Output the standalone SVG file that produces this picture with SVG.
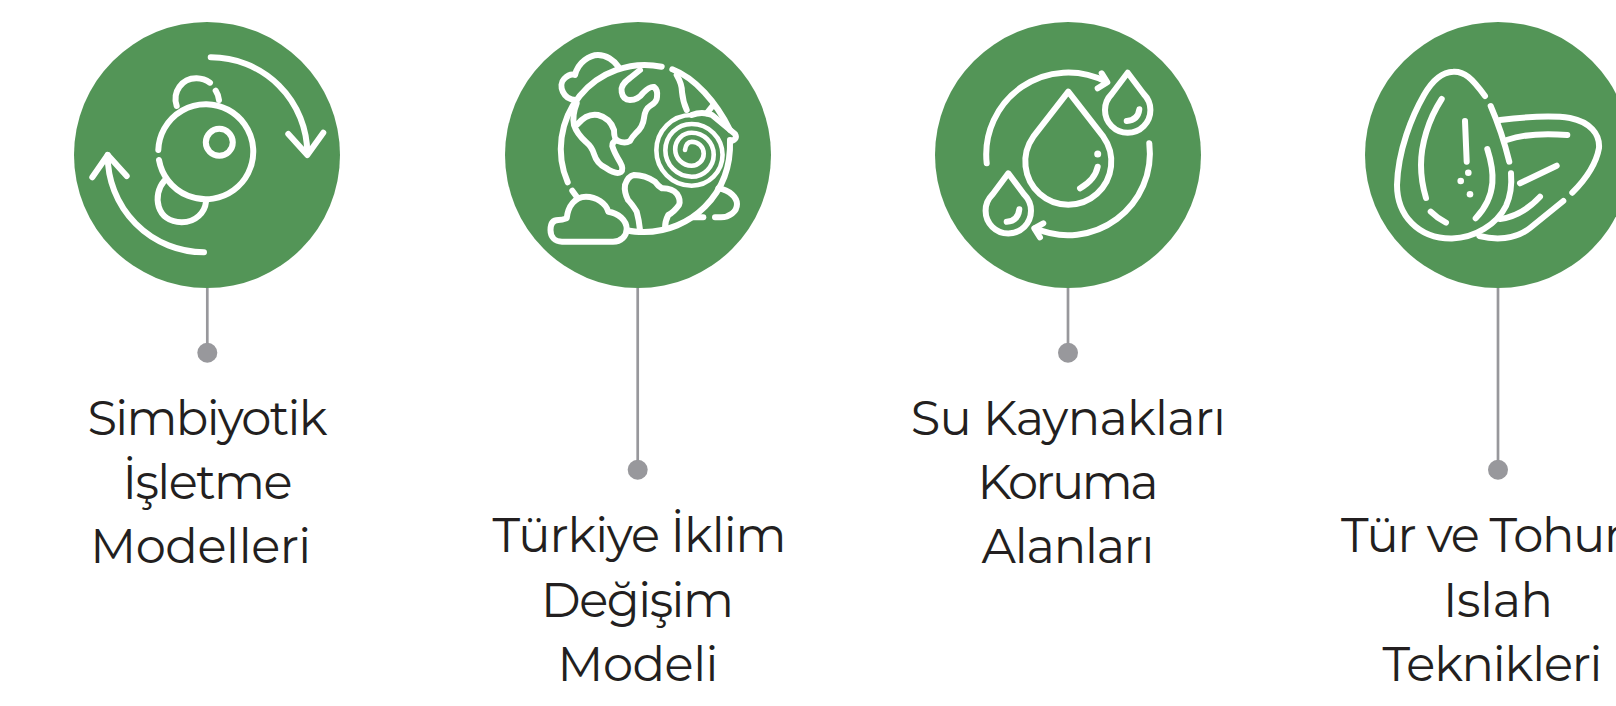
<svg xmlns="http://www.w3.org/2000/svg" width="1616" height="706" viewBox="0 0 1616 706">
<style>
.disc{fill:#539557}
.ic{fill:none;stroke:#fff;stroke-width:6;stroke-linecap:round;stroke-linejoin:round}
.spiral{stroke-width:4.6}
.dot{fill:#fff}
.conn{stroke:#98989c;stroke-width:2.7;fill:none}
.end{fill:#98989c}
text{font-family:"Montserrat","Open Sans","Noto Sans",sans-serif;font-size:48px;fill:#231f20;text-anchor:middle}
</style>
<rect width="1616" height="706" fill="#fff"/>
<g id="connectors">
<path class="conn" d="M207.300 288V353"/><circle class="end" cx="207.300" cy="352.700" r="10"/>
<path class="conn" d="M637.700 288V470"/><circle class="end" cx="637.700" cy="469.700" r="10"/>
<path class="conn" d="M1068 288V353"/><circle class="end" cx="1068" cy="352.700" r="10"/>
<path class="conn" d="M1498 288V470"/><circle class="end" cx="1498" cy="469.700" r="10"/>
</g>
<g id="node-1">
<circle class="disc" cx="207" cy="155" r="133"/>
<g class="ic">
<path d="M210.700 57.300A96.500 96.500 0 0 1 307.300 153.300"/><path d="M288.300 134L307.300 155L323.300 132.700"/>
<path d="M204 252.300A96.500 96.500 0 0 1 107.700 155"/><path d="M92.300 177.300L107.700 155L126.700 176"/>
<path d="M158.300 150A47.500 47.500 0 1 1 159 160"/>
<circle cx="219.300" cy="142.300" r="13.500"/>
<path d="M176.700 106C172 92 182 78 196.700 78.300Q204 78.500 210 82.700"/><path d="M215.700 90.700Q218.500 95 219 100"/>
<path d="M164.300 180.700C152 195 156 222 181.700 222.300C196 222.300 205 212 206 201.700"/>
</g>
</g>
<g id="node-2">
<circle class="disc" cx="638" cy="155" r="133"/>
<g class="ic">
<path d="M661.700 66.700A84 84 0 0 0 567.700 182.300"/>
<path d="M672.300 69.300C695 78 716 102 730 130"/>
<path d="M730 140C732 195 690 232 644 232C638 232 632 231.500 628 230.500"/>
<path d="M575.700 100C563 100 558 85 564 79C568 75 572 74 575 75C578 62 590 55 598 55C606 55 614 60 618.300 66.700"/>
<path d="M640 70L630 78Q620 85 621.700 92Q623 100 630 100Q638 100 643 93Q650 86 654 87Q658 90 657 97Q657 102 650 106Q645 109 644 118Q643 127 636 133Q632 137 630 141Q625 144 618 141Q614 140 614 130Q610 118 598 115Q587 113 577.700 124"/>
<path d="M576.700 103.300Q572 115 574 125Q577 134 586 142Q592 147 594 154Q597 164 606 168Q616 175 621 172Q624 169 620 162Q614 152 612.300 146Q612 142 616.700 140"/>
<path d="M691.700 115Q702 111 712 115L735 134Q738 139 731 141"/>
<path class="spiral" d="M691.700 115A35.300 35.300 0 0 0 691.700 185.700A30.800 30.800 0 0 0 691.700 124A26.300 26.300 0 0 0 691.700 176.700A22 22 0 0 0 691.700 132.700A16.500 16.500 0 0 0 691.700 165.700A12 12 0 0 0 691.700 141.700Q686 142 685 150"/>
<path d="M676.700 75Q682 84 682 92Q683 102 686.700 110"/>
<path d="M713.300 105L706.700 113.300"/>
<path d="M718.300 188.300C730 190 737 198 737 204C737 212 729 217.300 721 217.300H715"/>
<path d="M693.300 217.300H703.300"/>
<path d="M572.300 190.700L576.700 196.700"/>
<path d="M558.300 220C552 220 550.500 225 550.500 230C550.500 237 555 241.700 562 241.700H613C621 241.700 626.700 236 626.700 229C626.700 220 618 213 608.300 211.700C606 203 596 196.700 586 196.700C575 196.700 568 206 566.700 218.300Q562 220 558.300 220Z"/>
<path d="M640 230Q639 220 636.700 211.700Q632 204 628 200Q624 192 625 185Q628 176 634 175Q645 175 655 181.700Q658 186 662 188.300Q672 188 677 194Q681 200 679 205Q674 212 668.300 215Q665 221 665 228.300"/>
</g>
</g>
<g id="node-3">
<circle class="disc" cx="1068" cy="155" r="133"/>
<g class="ic">
<path d="M986.700 163.300A82 82 0 0 1 1106 81.700"/><path d="M1101.700 73.300L1107.300 82.300L1097.700 88.300"/>
<path d="M1149.300 143.300A82 82 0 0 1 1035 228.300"/><path d="M1043.300 223.300L1034.300 228.300L1040 237.300"/>
<path d="M1068.300 91.700L1103.300 136.700A43 43 0 1 1 1033.300 136.700Z"/>
<path d="M1097.700 166.700Q1095 180 1080 188.300"/>
<path d="M1127.700 72.700L1143.700 94A22.700 22.700 0 1 1 1111.700 94Z"/>
<path d="M1139.300 109.300Q1138 120 1126.700 121"/>
<path d="M1008.300 173.300L1024.300 194.700A22.700 22.700 0 1 1 992.300 194.700Z"/>
<path d="M1019.300 209.300Q1018 221 1006.700 221.700"/>
</g>
<circle class="dot" cx="1097.700" cy="154" r="3.500"/>
</g>
<g id="node-4">
<circle class="disc" cx="1498" cy="155" r="133"/>
<g class="ic">
<path d="M1485 96C1472 78 1464 71 1453.300 71.700C1442 72 1432 81 1424 95C1412 116 1398 150 1397 185C1397 215 1418 239 1452 238.500C1475 238 1497 224 1506 206C1511 195 1512 185 1511 173.300"/>
<path d="M1490.700 106Q1502 132 1509.300 161.700"/>
<path d="M1441.700 99C1428 120 1421 145 1421 165C1421 178 1423 188 1426 198"/>
<path d="M1430.700 211.700Q1437 218 1446 222.700"/>
<path d="M1465 121L1466.700 161.700"/>
<path d="M1487.300 149C1494 170 1498 195 1475.700 218.300"/>
<path d="M1500 120C1525 117 1550 115 1570 118C1590 122 1600 134 1599 148C1596 165 1585 180 1572.300 192.700"/>
<path d="M1506.700 140Q1530 132 1567.300 135"/>
<path d="M1520 183.300L1556.700 165.700"/>
<path d="M1500 219Q1522 216 1540 196.700"/>
<path d="M1479.300 236C1495 240 1515 240 1530 228L1563.300 201"/>
</g>
<circle class="dot" cx="1468.300" cy="172.700" r="3.300"/><circle class="dot" cx="1460.700" cy="181" r="3.300"/><circle class="dot" cx="1470" cy="194.300" r="3.300"/>
</g>
<g id="label-1"><text x="207.500" y="435" textLength="240">Simbiyotik</text><text x="207.500" y="499" textLength="170">İşletme</text><text x="200.700" y="563" textLength="221">Modelleri</text></g>
<g id="label-2"><text x="639.500" y="552" textLength="294">Türkiye İklim</text><text x="637.500" y="617" textLength="193">Değişim</text><text x="638" y="681" textLength="161">Modeli</text></g>
<g id="label-3"><text x="1068.300" y="435" textLength="315">Su Kaynakları</text><text x="1068" y="499" textLength="181">Koruma</text><text x="1068" y="563" textLength="173">Alanları</text></g>
<g id="label-4"><text x="1498" y="552" textLength="314">Tür ve Tohum</text><text x="1498" y="617" textLength="110">Islah</text><text x="1492.500" y="681" textLength="220">Teknikleri</text></g>
</svg>
